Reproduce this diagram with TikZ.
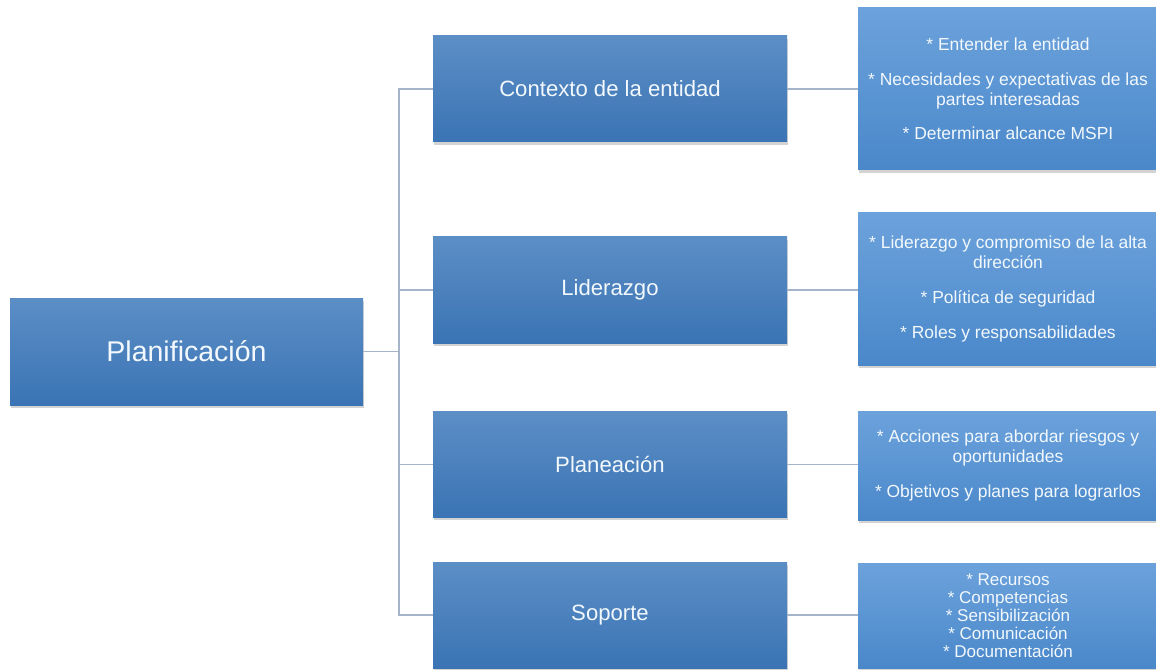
\documentclass[tikz,border=0pt]{standalone}
\usepackage{fontspec}
\setmainfont{Liberation Sans}
\usetikzlibrary{shadows}

\definecolor{boxtop}{RGB}{92,142,198}
\definecolor{boxbot}{RGB}{58,116,180}
\definecolor{subtop}{RGB}{108,162,220}
\definecolor{subbot}{RGB}{74,136,202}
\definecolor{linkcol}{RGB}{165,180,200}
\definecolor{txtcol}{RGB}{242,248,252}

\tikzset{
  mainbox/.style={rectangle, top color=boxtop, bottom color=boxbot, draw=none,
    text=txtcol, align=center, inner sep=2pt,
    drop shadow={shadow xshift=1pt, shadow yshift=-2pt, opacity=0.35}},
  subbox/.style={rectangle, top color=subtop, bottom color=subbot, draw=none,
    text=txtcol, align=center, inner sep=2pt, minimum width=225pt,
    font=\fontsize{13.1}{15}\selectfont,
    drop shadow={shadow xshift=1pt, shadow yshift=-2pt, opacity=0.35}},
  link/.style={draw=linkcol, line width=0.8pt}
}

\begin{document}
\begin{tikzpicture}[x=0.75pt,y=0.75pt,yscale=-1,xscale=1]
\useasboundingbox (0,0) rectangle (1156,670);

% Root
\node [mainbox, minimum width=264.75pt, minimum height=80.25pt, font=\fontsize{21.4}{25}\selectfont] (plan) at (186.5,351.5) {Planificación};

% Second level
\node [mainbox, minimum width=265.5pt, minimum height=79.5pt, font=\fontsize{16.6}{20}\selectfont] (ctx) at (610,89) {Contexto de la entidad};
\node [mainbox, minimum width=265.5pt, minimum height=79.5pt, font=\fontsize{16.6}{20}\selectfont] (lid) at (610,290) {Liderazgo};
\node [mainbox, minimum width=265.5pt, minimum height=79.5pt, font=\fontsize{16.6}{20}\selectfont] (pla) at (610,464.5) {Planeación};
\node [mainbox, minimum width=265.5pt, minimum height=79.5pt, font=\fontsize{16.6}{20}\selectfont] (sop) at (610,615) {Soporte};

% Details
\node [subbox, minimum height=121.5pt] (ctxd) at (1008,89) {* Entender la entidad\\[11pt]* Necesidades y expectativas de las\\partes interesadas\\[11pt]* Determinar alcance MSPI};
\node [subbox, minimum height=114pt] (lidd) at (1008,289) {* Liderazgo y compromiso de la alta\\dirección\\[11pt]* Política de seguridad\\[11pt]* Roles y responsabilidades};
\node [subbox, minimum height=81.75pt] (plad) at (1008,465.5) {* Acciones para abordar riesgos y\\oportunidades\\[11pt]* Objetivos y planes para lograrlos};
\node [subbox, minimum height=78.75pt, font=\fontsize{12.8}{13.5}\selectfont] (sopd) at (1008,615.5) {* Recursos\\* Competencias\\* Sensibilización\\* Comunicación\\* Documentación};

% Connectors
\coordinate (trunk) at (399,351.5);
\draw [link] (plan.east) -- (trunk);
\draw [link] (ctx.west) -| (trunk) |- (sop.west);
\draw [link] (lid.west) -- (lid.west -| trunk);
\draw [link] (pla.west) -- (pla.west -| trunk);

\draw [link] (ctx.east) -- (ctx.east -| ctxd.west);
\draw [link] (lid.east) -- (lid.east -| lidd.west);
\draw [link] (pla.east) -- (pla.east -| plad.west);
\draw [link] (sop.east) -- (sop.east -| sopd.west);

\end{tikzpicture}
\end{document}
